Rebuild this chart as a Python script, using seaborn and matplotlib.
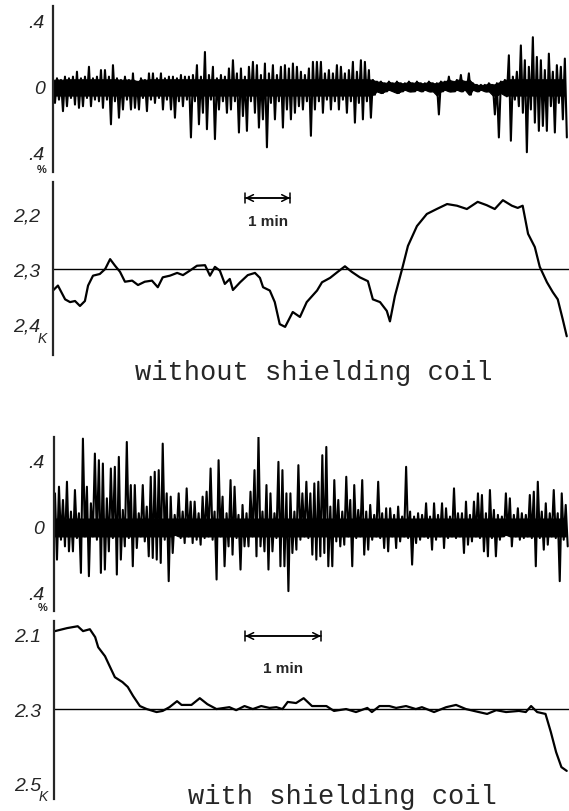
import matplotlib
matplotlib.use("Agg")
import matplotlib.pyplot as plt
import seaborn as sns
import numpy as np
import pandas as pd

# Fluctuation traces: upper / lower excursion per sample, in units of 0.01 %
TOP_NOISE_UP = [
    4, 5, 4, 6, 5, 6, 9, 5, 6, 12, 5, 6, 10, 10, 6, 13, 5, 4, 6, 4,
    8, 3, 5, 4, 8, 8, 5, 8, 5, 6, 6, 5, 7, 6, 6, 7, 13, 6, 21, 7,
    12, 5, 7, 6, 11, 16, 8, 11, 6, 12, 15, 13, 7, 14, 8, 13, 7, 12, 13, 11,
    14, 12, 9, 7, 11, 15, 15, 15, 8, 10, 8, 13, 12, 8, 10, 15, 9, 16, 15, 10,
    4, 3, 3, 2, 3, 2, 3, 2, 2, 3, 2, 3, 2, 2, 3, 2, 2, 3, 3, 6,
    3, 4, 7, 3, 8, 2, 1, 1, 1, 2, 1, 2, 3, 4, 19, 6, 9, 25, 16, 12,
    30, 18, 16, 10, 20, 9, 13, 12, 17,
]
TOP_NOISE_DOWN = [
    -10, -8, -15, -12, -7, -11, -13, -12, -7, -12, -8, -9, -13, -8, -23, -9, -19, -14, -8, -14,
    -13, -14, -7, -15, -8, -10, -7, -14, -8, -14, -19, -9, -12, -8, -31, -9, -23, -16, -26, -8,
    -32, -14, -9, -16, -14, -9, -28, -18, -27, -9, -16, -25, -20, -37, -10, -20, -9, -25, -14, -20,
    -16, -12, -14, -9, -30, -14, -9, -16, -8, -14, -9, -14, -8, -16, -9, -22, -10, -20, -9, -19,
    -5, -3, -4, -3, -2, -3, -4, -3, -2, -3, -3, -2, -3, -2, -3, -3, -17, -3, -2, -3,
    -3, -2, -3, -2, -5, -2, -3, -2, -3, -3, -17, -31, -4, -6, -33, -8, -12, -16, -40, -14,
    -22, -27, -24, -27, -12, -28, -10, -20, -31,
]
BOT_NOISE_UP = [
    20, 24, 16, 27, 9, 22, 8, 53, 24, 14, 44, 40, 38, 17, 35, 36, 42, 10, 51, 25,
    25, 8, 25, 12, 30, 33, 34, 50, 20, 18, 7, 20, 9, 23, 15, 15, 8, 18, 21, 35,
    9, 40, 18, 8, 28, 24, 7, 13, 8, 21, 34, 54, 9, 25, 20, 8, 39, 34, 20, 20,
    9, 37, 20, 27, 20, 26, 27, 43, 48, 12, 28, 16, 9, 30, 16, 25, 10, 28, 9, 13,
    7, 27, 8, 11, 11, 7, 12, 6, 36, 9, 6, 8, 7, 14, 6, 14, 7, 14, 11, 6,
    23, 8, 8, 15, 7, 15, 20, 19, 8, 22, 10, 7, 6, 20, 17, 7, 11, 8, 7, 19,
    21, 27, 9, 14, 8, 22, 8, 20, 13,
]
BOT_NOISE_DOWN = [
    -20, -8, -12, -15, -15, -7, -28, -6, -30, -6, -8, -28, -26, -15, -7, -29, -20, -12, -7, -24,
    -13, -6, -9, -18, -19, -20, -22, -8, -33, -16, -5, -7, -10, -6, -10, -8, -11, -7, -6, -8,
    -32, -6, -24, -12, -17, -7, -26, -12, -12, -6, -18, -12, -15, -26, -15, -7, -24, -24, -39, -16,
    -14, -8, -6, -7, -17, -20, -18, -16, -24, -24, -9, -12, -11, -6, -24, -7, -6, -17, -14, -8,
    -6, -7, -13, -15, -6, -13, -9, -6, -7, -23, -10, -8, -6, -7, -14, -8, -6, -13, -7, -6,
    -7, -6, -16, -11, -9, -6, -7, -15, -18, -7, -18, -8, -6, -5, -12, -6, -8, -7, -6, -7,
    -24, -7, -14, -11, -6, -7, -33, -8, -12,
]
TOP_NOISE_STEP = 4 / 45   # minutes per sample
BOT_NOISE_STEP = 4 / 76

# Temperature traces (time in minutes, temperature in K)
TOP_TEMP_T = [
    0.00, 0.11, 0.27, 0.38, 0.49, 0.60, 0.71, 0.78, 0.89, 1.04, 1.16, 1.27, 1.38, 1.49, 1.60,
    1.76, 1.89, 2.04, 2.20, 2.33, 2.44, 2.60, 2.76, 2.89, 3.04, 3.20, 3.38, 3.49, 3.60, 3.71,
    3.82, 3.93, 4.00, 4.16, 4.33, 4.49, 4.60, 4.67, 4.82, 4.93, 5.04, 5.16, 5.33, 5.49, 5.64,
    5.87, 5.98, 6.16, 6.33, 6.49, 6.64, 6.82, 7.00, 7.11, 7.27, 7.42, 7.49, 7.60, 7.76, 7.89,
    8.09, 8.31, 8.53, 8.76, 8.98, 9.20, 9.44, 9.64, 9.82, 10.00, 10.20, 10.33, 10.44, 10.56,
    10.71, 10.82, 10.98, 11.11, 11.22, 11.33, 11.42,
]
TOP_TEMP_K = [
    2.339, 2.330, 2.355, 2.360, 2.358, 2.367, 2.358, 2.330, 2.312, 2.309, 2.300, 2.282, 2.294, 2.305, 2.323,
    2.321, 2.329, 2.323, 2.321, 2.333, 2.315, 2.312, 2.307, 2.311, 2.303, 2.294, 2.293, 2.312, 2.296, 2.303,
    2.327, 2.318, 2.338, 2.324, 2.311, 2.307, 2.316, 2.333, 2.339, 2.360, 2.400, 2.405, 2.378, 2.387, 2.360,
    2.339, 2.324, 2.316, 2.305, 2.295, 2.305, 2.315, 2.322, 2.355, 2.360, 2.376, 2.395, 2.349, 2.300, 2.258,
    2.222, 2.200, 2.191, 2.182, 2.185, 2.191, 2.178, 2.184, 2.191, 2.175, 2.185, 2.189, 2.185, 2.236,
    2.260, 2.296, 2.324, 2.342, 2.355, 2.391, 2.422,
]
BOT_TEMP_T = [
    0.00, 0.16, 0.30, 0.37, 0.46, 0.53, 0.57, 0.66, 0.72, 0.79, 0.89, 0.96, 1.03, 1.12, 1.21,
    1.34, 1.42, 1.51, 1.61, 1.67, 1.80, 1.91, 2.01, 2.13, 2.30, 2.39, 2.50, 2.61, 2.72, 2.83,
    2.92, 3.00, 3.07, 3.18, 3.28, 3.39, 3.58, 3.68, 3.84, 3.97, 4.12, 4.18, 4.28, 4.41, 4.50,
    4.63, 4.76, 4.84, 5.00, 5.16, 5.29, 5.42, 5.59, 5.70, 5.82, 5.95, 6.12, 6.21, 6.28, 6.36,
    6.47, 6.54, 6.61, 6.68, 6.75,
]
BOT_TEMP_K = [
    2.092, 2.084, 2.079, 2.092, 2.087, 2.108, 2.135, 2.159, 2.185, 2.215, 2.228, 2.241, 2.265, 2.292, 2.300,
    2.308, 2.305, 2.295, 2.279, 2.289, 2.289, 2.271, 2.287, 2.300, 2.295, 2.303, 2.292, 2.300, 2.292, 2.297,
    2.295, 2.300, 2.281, 2.284, 2.271, 2.292, 2.292, 2.305, 2.300, 2.308, 2.297, 2.308, 2.292, 2.292, 2.297,
    2.292, 2.300, 2.295, 2.308, 2.295, 2.289, 2.300, 2.308, 2.313, 2.303, 2.308, 2.305, 2.308, 2.292, 2.308,
    2.313, 2.361, 2.415, 2.455, 2.465,
]

REF_TEMP = 2.3
TITLES = ["without shielding coil", "with shielding coil"]


def noise_frame(up, down, step):
    n = len(up)
    t = np.empty(2 * n)
    v = np.empty(2 * n)
    t[0::2] = np.arange(n) * step
    t[1::2] = (np.arange(n) + 0.5) * step
    v[0::2] = np.array(up) / 100.0
    v[1::2] = np.array(down) / 100.0
    return pd.DataFrame({"t": t, "v": v})


def style_axis(ax, major, labels, minor=(), length=7, pad=2):
    for side in ["top", "right", "bottom"]:
        ax.spines[side].set_visible(False)
    ax.spines["left"].set_linewidth(1.6)
    ax.set_xticks([])
    ax.set_yticks(major)
    ax.set_yticklabels(labels, fontstyle="italic", fontsize=14,
                       family=["Liberation Sans", "DejaVu Sans"])
    ax.set_yticks(list(minor), minor=True)
    ax.tick_params(axis="y", which="both", direction="inout", length=length,
                   width=1.3, pad=pad)
    ax.set_xlabel("")
    ax.set_ylabel("")
    ax.patch.set_alpha(0)


sns.set_style("white")
plt.rcParams["font.family"] = ["Liberation Sans", "DejaVu Sans"]

fig = plt.figure(figsize=(5.69, 8.12), dpi=100)

ax1 = fig.add_axes([0.0931, 0.787, 0.9069, 0.2044])
ax2 = fig.add_axes([0.0931, 0.5616, 0.9069, 0.2130])
ax3 = fig.add_axes([0.0949, 0.2463, 0.9051, 0.2143])
ax4 = fig.add_axes([0.0949, 0.0148, 0.9051, 0.2192])

# Noise traces: zigzag through the excursions plus a filled core band
for ax, up, down, step, ylim, xlim, pad, pct_y, core in [
    (ax1, TOP_NOISE_UP, TOP_NOISE_DOWN, TOP_NOISE_STEP, (-0.52, 0.49), (0, 11.47), 2.5, -0.50, 0.055),
    (ax3, BOT_NOISE_UP, BOT_NOISE_DOWN, BOT_NOISE_STEP, (-0.51, 0.54), (-0.013, 6.78), 3.5, -0.485, 0.06),
]:
    df = noise_frame(up, down, step)
    tt = df["t"].to_numpy()[0::2]
    ax.fill_between(tt, np.clip(np.array(down) / 100.0, -core, 0),
                    np.clip(np.array(up) / 100.0, 0, core * 0.8),
                    color="black", lw=0.8)
    sns.lineplot(data=df, x="t", y="v", ax=ax, color="black", lw=1.5,
                 estimator=None, sort=False)
    ax.set_ylim(*ylim)
    ax.set_xlim(*xlim)
    style_axis(ax, [-0.4, 0, 0.4], [".4", "0", ".4"], minor=[-0.2, 0.2],
               length=7, pad=pad)
    ax.text(-0.022, pct_y, "%", transform=ax.get_yaxis_transform(),
            ha="center", va="center", fontsize=8, fontweight="bold")

# Temperature traces
for ax, tt, kk, ylim, xlim, major, labels, minor, length, pad, k_y in [
    (ax2, TOP_TEMP_T, TOP_TEMP_K, (2.456, 2.142), (0, 11.47),
     [2.2, 2.3, 2.4], ["2,2", "2,3", "2,4"], [], 11, 4, 2.426),
    (ax4, BOT_TEMP_T, BOT_TEMP_K, (2.54, 2.065), (-0.013, 6.78),
     [2.1, 2.3, 2.5], ["2.1", "2.3", "2.5"], [2.2, 2.4], 7, 6, 2.532),
]:
    df = pd.DataFrame({"t": tt, "k": kk})
    ax.axhline(REF_TEMP, color="black", lw=1.0)
    sns.lineplot(data=df, x="t", y="k", ax=ax, color="black", lw=1.6,
                 estimator=None, sort=False)
    ax.set_ylim(*ylim)
    ax.set_xlim(*xlim)
    style_axis(ax, major, labels, minor, length=length, pad=pad)
    ax.text(-0.02, k_y, "K", transform=ax.get_yaxis_transform(),
            ha="center", va="center", fontsize=10, fontstyle="italic")

# One-minute scale bars
for ax, t0, ybar, ytxt in [(ax2, 4.27, 2.171, 2.213), (ax4, 2.51, 2.105, 2.19)]:
    ax.annotate("", xy=(t0 + 1.0, ybar), xytext=(t0, ybar),
                arrowprops=dict(arrowstyle="<->", lw=1.1, color="black",
                                shrinkA=0, shrinkB=0, mutation_scale=12))
    ax.annotate("", xy=(t0 + 1.0, ybar), xytext=(t0, ybar),
                arrowprops=dict(arrowstyle="|-|,widthA=0.35,widthB=0.35", lw=1.1,
                                color="black", shrinkA=0, shrinkB=0))
    ax.text(t0 + 0.5, ytxt, "1 min", ha="center", va="center",
            fontsize=11, fontweight="bold")

fig.text(314 / 569, 1 - 373 / 812, TITLES[0], ha="center", va="center",
         fontsize=19.5, family=["Liberation Mono", "DejaVu Sans Mono"])
fig.text(342 / 569, 1 - 797 / 812, TITLES[1], ha="center", va="center",
         fontsize=19.5, family=["Liberation Mono", "DejaVu Sans Mono"])

fig.savefig("out.png", dpi=100, facecolor="white")
plt.close(fig)
